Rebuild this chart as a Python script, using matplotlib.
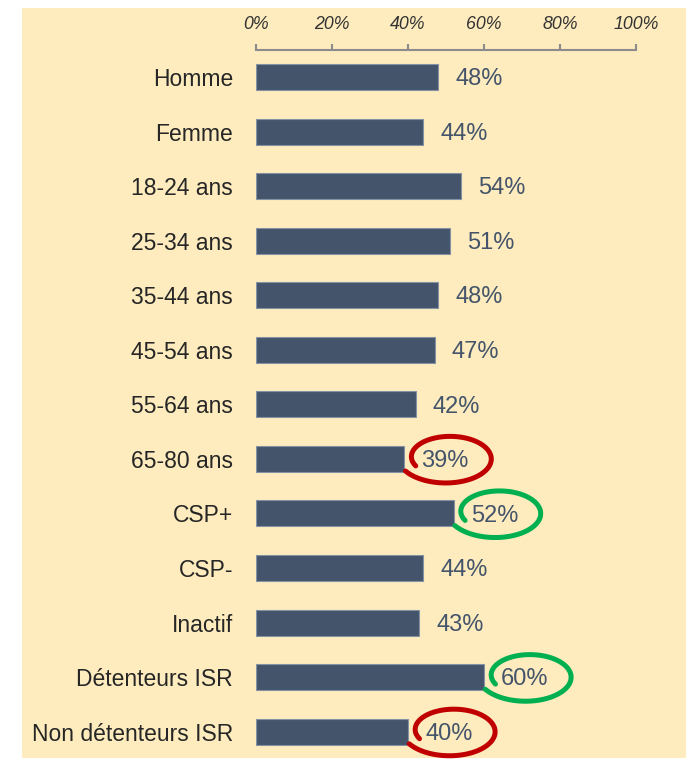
import numpy as np
import matplotlib.pyplot as plt
from matplotlib.patches import Rectangle

plt.rcParams['font.family'] = ['Liberation Sans', 'DejaVu Sans']

categories = ['Homme', 'Femme', '18-24 ans', '25-34 ans', '35-44 ans', '45-54 ans',
              '55-64 ans', '65-80 ans', 'CSP+', 'CSP-', 'Inactif',
              'Détenteurs ISR', 'Non détenteurs ISR']
values = [48, 44, 54, 51, 48, 47, 42, 39, 52, 44, 43, 60, 40]
# entourages à la main : (index, couleur)
circled = [(7, '#C00000'), (8, '#00B050'), (11, '#00B050'), (12, '#C00000')]

bar_color = '#44546A'
cream = '#FEECBE'

fig = plt.figure(figsize=(6.86, 7.59), dpi=100, facecolor='white')
fig.patches.append(Rectangle((22 / 686, 0.001), 1 - 22 / 686, 1 - 8 / 759 - 0.001,
                             transform=fig.transFigure, facecolor=cream,
                             edgecolor='none', zorder=-10))

ax = fig.add_axes([256 / 686, 0, 380 / 686, 1 - 49.7 / 759])
ax.patch.set_visible(False)

y = np.arange(len(categories))
ax.barh(y, values, height=0.476, color=bar_color, edgecolor='#8592a3', linewidth=0.8)

ax.set_xlim(0, 100)
ax.set_ylim(12.5, -0.5)
ax.set_yticks(y)
ax.set_yticklabels(categories, fontsize=16.5, color='#262626')
ax.tick_params(axis='y', length=0, pad=16.5)

ax.xaxis.tick_top()
ax.set_xticks(np.arange(0, 101, 20))
ax.set_xticklabels(['%d%%' % v for v in range(0, 101, 20)],
                   fontsize=12.8, style='italic', color='#333333')
ax.tick_params(axis='x', length=4.3, width=1.5, color='#8c8c8c', pad=7.5)

for s in ['bottom', 'left', 'right']:
    ax.spines[s].set_visible(False)
ax.spines['top'].set_color('#8c8c8c')
ax.spines['top'].set_linewidth(1.5)
ax.spines['top'].set_bounds(0, 100)

for i, v in enumerate(values):
    ax.text(v + 4.5, i + 0.04, '%d%%' % v, va='center', ha='left',
            fontsize=17, color=bar_color)

# cercles dessinés à la main autour de certaines valeurs
t = np.radians(np.linspace(205, -150, 200))
r = np.linspace(0.76, 1.05, 200)
for i, c in circled:
    cx = values[i] + 11.5
    cy = i - 0.02
    xs = cx + 12.3 * r * np.cos(t)
    ys = cy - 0.46 * r * np.sin(t)
    ax.plot(xs, ys, color=c, lw=3.6, solid_capstyle='round', clip_on=False)

fig.savefig('out.png', dpi=100, facecolor='white')
